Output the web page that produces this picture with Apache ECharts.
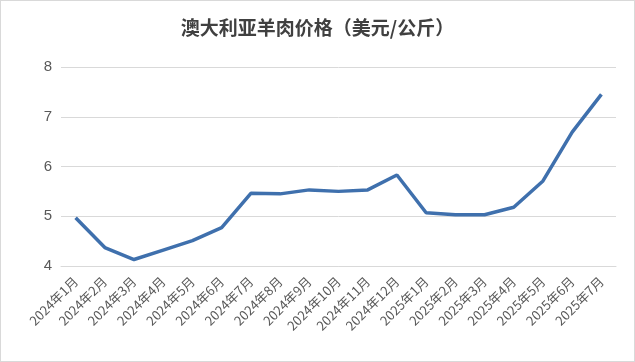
<!DOCTYPE html>
<html><head><meta charset="utf-8">
<script src="https://cdn.jsdelivr.net/npm/echarts@6/dist/echarts.min.js"></script>
<style>
html,body{margin:0;padding:0;background:#fff;}
#c{width:635px;height:362px;box-sizing:border-box;border:1px solid #d9d9d9;}
</style></head>
<body><div id="c"></div>
<script>
const categories = ['2024年1月','2024年2月','2024年3月','2024年4月','2024年5月','2024年6月','2024年7月','2024年8月','2024年9月','2024年10月','2024年11月','2024年12月','2025年1月','2025年2月','2025年3月','2025年4月','2025年5月','2025年6月','2025年7月'];
const prices = [4.97,4.37,4.13,4.32,4.51,4.77,5.46,5.45,5.53,5.50,5.53,5.83,5.07,5.03,5.03,5.18,5.71,6.69,7.45];
const titleText = '澳大利亚羊肉价格（美元/公斤）';

const chart = echarts.init(document.getElementById('c'), null, {renderer:'canvas'});
chart.setOption({
  animation:false,
  title:{text:titleText,left:'center',top:12,textStyle:{fontFamily:'Noto Sans CJK SC',fontSize:19,fontWeight:'bold',color:'#404040'}},
  grid:{left:60,right:18,top:66,bottom:95,containLabel:false},
  xAxis:{type:'category',data:categories,boundaryGap:true,
    axisLine:{show:true,lineStyle:{color:'#d9d9d9'}},axisTick:{show:false},
    axisLabel:{rotate:45,interval:0,margin:13,fontFamily:'Noto Sans CJK SC',fontSize:13,color:'#595959'}},
  yAxis:{type:'value',min:4,max:8,interval:1,
    axisLine:{show:false},axisTick:{show:false},
    axisLabel:{margin:9,fontFamily:'Liberation Sans',fontSize:15,color:'#595959'},
    splitLine:{lineStyle:{color:'#d9d9d9',width:1}}},
  series:[{type:'line',data:prices,symbol:'none',lineStyle:{color:'#3F70AD',width:3.5},itemStyle:{color:'#3F70AD'}}]
});
</script></body></html>
